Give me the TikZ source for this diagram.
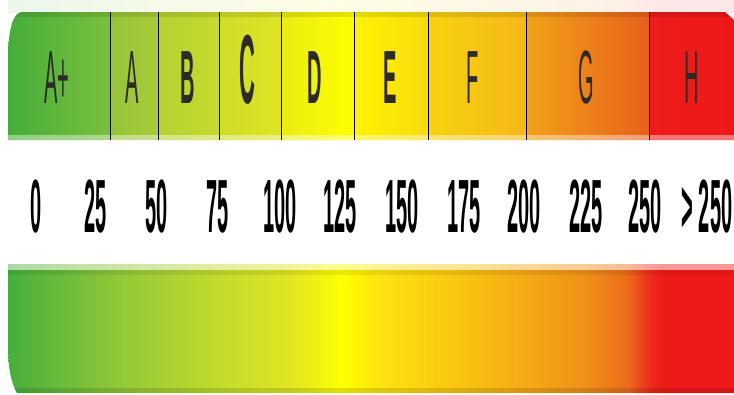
\documentclass[tikz,border=0pt]{standalone}
\usepackage{fontspec}
\setmainfont{Liberation Sans}
\usepackage{graphicx}
\newcommand{\talltxt}[1]{\scalebox{1}[3.77]{#1}}
% bottom bar colours
\definecolor{b0}{HTML}{45AF3C}
\definecolor{b1}{HTML}{5CB63C}
\definecolor{b2}{HTML}{92C838}
\definecolor{b3}{HTML}{C6DC2C}
\definecolor{b4}{HTML}{E0E622}
\definecolor{b5}{HTML}{FFFF00}
\definecolor{b6}{HTML}{FDE40E}
\definecolor{b7}{HTML}{F8C012}
\definecolor{b8}{HTML}{F09018}
\definecolor{b9}{HTML}{EC6A1A}
\definecolor{b10}{HTML}{EE2C1C}
\definecolor{b11}{HTML}{EE1A1A}
\definecolor{b12}{HTML}{F01818}
\pgfdeclarehorizontalshading{energybar}{100bp}{%
color(0bp)=(b0); color(25bp)=(b0); color(27.2bp)=(b1); color(32.7bp)=(b2);
color(40bp)=(b3); color(44.5bp)=(b4); color(48bp)=(b5); color(50.5bp)=(b6);
color(57bp)=(b7); color(64.8bp)=(b8); color(67.7bp)=(b9); color(69.2bp)=(b10);
color(70.2bp)=(b11); color(75bp)=(b12); color(100bp)=(b12)}
\tikzset{
  lbl/.style={anchor=base, inner sep=0pt, font=\fontsize{20}{20}\selectfont, text=black!90!olive},
  num/.style={anchor=base, inner sep=0pt, font=\fontsize{20}{20}\selectfont\bfseries, text=black},
  divider/.style={draw=black, line width=1pt}
}
\begin{document}
\begin{tikzpicture}[x=1pt,y=-1pt]
\useasboundingbox (0,0) rectangle (734,394);
\fill[white] (0,0) rectangle (734,394);
% faint halo above top bar
\shade[shading=energybar, opacity=0.1] (8,0) rectangle (734,12);
% ---------- top bar ----------
\begin{scope}
  \path[clip] (8,140) -- (8,60) .. controls (8,30) and (13,12) .. (22,12) -- (725,12) -- (734,20) -- (734,140) -- cycle;
  \foreach \xa/\xb/\cl/\cr in {8/110/46AD3A/7ABF3E, 110/158/94C43A/A8CC38,
      158/219/B4D232/C6DA2C, 219/281/CEDD2A/DEE422, 281/354/EAEC14/FFFF00,
      354/428/FFF400/F8DA10, 428/526/F8D210/F5B818, 526/649/F2A218/E8601C,
      649/734/EE1C1C/EE1818}{
    \definecolor{segl}{HTML}{\cl}
    \definecolor{segr}{HTML}{\cr}
    \shade[left color=segl, right color=segr] (\xa,0) rectangle (\xb,150);
  }
  \fill[black, opacity=0.1] (0,12) rectangle (734,17);
  \fill[white, opacity=0.4] (0,135) rectangle (734,140);
\end{scope}
% dividers
\foreach \x in {110,158,219,281,354,428,526,649}{
  \draw[divider] (\x,12) -- (\x,140);
}
% class letters
\node[lbl] (lAp) at (57,103) {\talltxt{A+}};
\node[lbl] (lA)  at (132,103) {\talltxt{A}};
\node[lbl] (lB)  at (188,103) {\talltxt{\bfseries B}};
\node[lbl] (lC)  at (247,103) {\scalebox{1.1}[4.9]{\bfseries C}};
\node[lbl] (lD)  at (315,103) {\talltxt{\bfseries D}};
\node[lbl] (lE)  at (390,103) {\talltxt{\bfseries E}};
\node[lbl] (lF)  at (473,103) {\talltxt{F}};
\node[lbl] (lG)  at (586,103) {\talltxt{G}};
\node[lbl] (lH)  at (692,103) {\talltxt{H}};
% numbers
\node[num] (n0)   at (36,232)  {\talltxt{0}};
\node[num] (n25)  at (96,232)  {\talltxt{25}};
\node[num] (n50)  at (157,232) {\talltxt{50}};
\node[num] (n75)  at (218,232) {\talltxt{75}};
\node[num] (n100) at (280,232) {\talltxt{100}};
\node[num] (n125) at (340,232) {\talltxt{125}};
\node[num] (n150) at (402,232) {\talltxt{150}};
\node[num] (n175) at (464,232) {\talltxt{175}};
\node[num] (n200) at (524,232) {\talltxt{200}};
\node[num] (n225) at (586,232) {\talltxt{225}};
\node[num] (n250) at (645,232) {\talltxt{250}};
\node[num] (ngt)  at (707,232) {\talltxt{> 250}};
% ---------- bottom bar ----------
\begin{scope}
  \path[clip] (8,264) -- (734,264) -- (734,393) -- (17,393) .. controls (12,385) and (8,370) .. (8,345) -- cycle;
  \shade[shading=energybar] (8,264) rectangle (734,393);
  \fill[white, opacity=0.55] (0,264) rectangle (734,270);
  \fill[black, opacity=0.08] (0,270) rectangle (734,275);
  \fill[black, opacity=0.12] (0,388) rectangle (734,393);
\end{scope}
\end{tikzpicture}
\end{document}
